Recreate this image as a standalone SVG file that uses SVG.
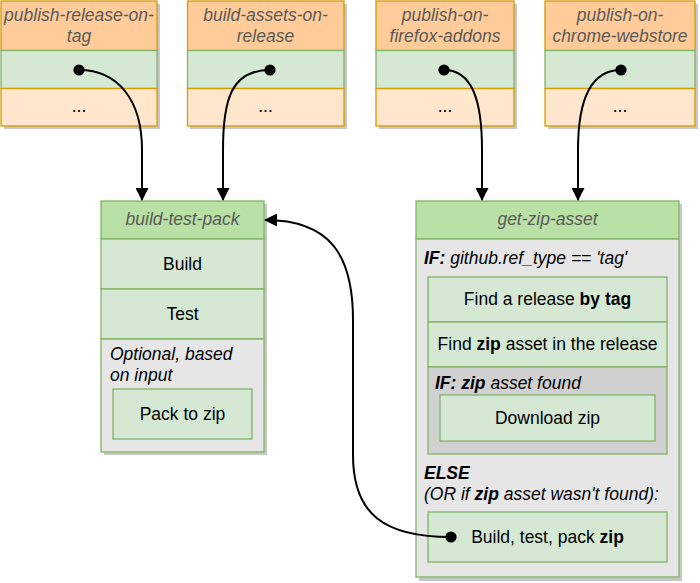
<svg xmlns="http://www.w3.org/2000/svg" width="700" height="583" viewBox="0 0 700 583">
<style>
text{font-family:"Liberation Sans",Arial,sans-serif;font-size:17.5px;fill:#000}
.hd{font-style:italic;fill:#5a5a5a}
.c{text-anchor:middle}
.it{font-style:italic}
.b{font-weight:bold}
.sh{fill:#000;opacity:0.22}
.or{fill:#ffcc99;stroke:#d79b00;stroke-width:1.3}
.orl{fill:#ffe6cc;stroke:#d79b00;stroke-width:1.3}
.gr{fill:#d5e8d4;stroke:#82b366;stroke-width:1.3}
.grh{fill:#b9e0a5;stroke:#82b366;stroke-width:1.3}
.gy{fill:#e6e6e6;stroke:#82b366;stroke-width:1.3}
.gy2{fill:#d0d0d0;stroke:#82b366;stroke-width:1.3}
.ln{fill:none;stroke:#000;stroke-width:2}
</style>
<defs>
<marker id="arr" viewBox="0 0 13 13" refX="12" refY="6.5" markerWidth="13" markerHeight="13" markerUnits="userSpaceOnUse" orient="auto">
<path d="M0,0 L13,6.5 L0,13 Z" fill="#000"/>
</marker>
<marker id="dot" viewBox="0 0 12 12" refX="6" refY="6" markerWidth="12" markerHeight="12" markerUnits="userSpaceOnUse" orient="auto">
<circle cx="6" cy="6" r="5.6" fill="#000"/>
</marker>
</defs>
<g id="publish-release-on-tag">
<rect class="sh" x="4" y="4" width="156" height="125"/>
<rect class="or" x="1" y="1" width="156" height="49.5"/>
<rect class="gr" x="1" y="50.5" width="156" height="38"/>
<rect class="orl" x="1" y="88.5" width="156" height="37.5"/>
<text class="hd c" x="79" y="21">publish-release-on-</text>
<text class="hd c" x="79" y="42">tag</text>
<text class="c" x="79" y="112">...</text>
</g>
<g id="build-assets-on-release">
<rect class="sh" x="190" y="4" width="157" height="125"/>
<rect class="or" x="187.5" y="1" width="156.5" height="49.5"/>
<rect class="gr" x="187.5" y="50.5" width="156.5" height="38"/>
<rect class="orl" x="187.5" y="88.5" width="156.5" height="37.5"/>
<text class="hd c" x="265.5" y="21">build-assets-on-</text>
<text class="hd c" x="265.5" y="42">release</text>
<text class="c" x="265.5" y="112">...</text>
</g>
<g id="publish-on-firefox-addons">
<rect class="sh" x="379" y="4" width="138" height="125"/>
<rect class="or" x="376" y="1" width="138" height="49.5"/>
<rect class="gr" x="376" y="50.5" width="138" height="38"/>
<rect class="orl" x="376" y="88.5" width="138" height="37.5"/>
<text class="hd c" x="445" y="21">publish-on-</text>
<text class="hd c" x="445" y="42">firefox-addons</text>
<text class="c" x="445" y="112">...</text>
</g>
<g id="publish-on-chrome-webstore">
<rect class="sh" x="548" y="4" width="150" height="125"/>
<rect class="or" x="545" y="1" width="150" height="49.5"/>
<rect class="gr" x="545" y="50.5" width="150" height="38"/>
<rect class="orl" x="545" y="88.5" width="150" height="37.5"/>
<text class="hd c" x="620" y="21">publish-on-</text>
<text class="hd c" x="620" y="42">chrome-webstore</text>
<text class="c" x="620" y="112">...</text>
</g>
<g id="build-test-pack">
<rect class="sh" x="104" y="204" width="163" height="251"/>
<rect class="grh" x="101" y="201" width="163" height="38"/>
<rect class="gr" x="101" y="239" width="163" height="50"/>
<rect class="gr" x="101" y="289" width="163" height="50"/>
<rect class="gy" x="101" y="339" width="163" height="113"/>
<rect class="gr" x="113" y="389" width="139" height="50"/>
<text class="hd c" x="182.5" y="225">build-test-pack</text>
<text class="c" x="182.5" y="270">Build</text>
<text class="c" x="182.5" y="320">Test</text>
<text class="it" x="110" y="360">Optional, based</text>
<text class="it" x="110" y="381">on input</text>
<text class="c" x="182.5" y="420">Pack to zip</text>
</g>
<g id="get-zip-asset">
<rect class="sh" x="419" y="204" width="263" height="377"/>
<rect class="grh" x="416" y="201" width="263" height="38"/>
<rect class="gy" x="416" y="239" width="263" height="338"/>
<text class="hd c" x="547.5" y="225">get-zip-asset</text>
<text x="424" y="264"><tspan class="b it">IF:</tspan><tspan class="it"> github.ref_type == 'tag'</tspan></text>
<rect class="gr" x="428" y="277" width="239" height="45"/>
<rect class="gr" x="428" y="322" width="239" height="45"/>
<rect class="gy2" x="428" y="367" width="239" height="87"/>
<text class="c" x="547.5" y="305">Find a release <tspan class="b">by tag</tspan></text>
<text class="c" x="547.5" y="350">Find <tspan class="b">zip</tspan> asset in the release</text>
<text x="435" y="389"><tspan class="b it">IF: zip</tspan><tspan class="it"> asset found</tspan></text>
<rect class="gr" x="440" y="395" width="215" height="46"/>
<text class="c" x="547.5" y="424">Download zip</text>
<text class="b it" x="424" y="479">ELSE</text>
<text class="it" x="424" y="500">(OR if <tspan class="b">zip</tspan> asset wasn't found):</text>
<rect class="gr" x="428" y="512" width="239" height="50"/>
<text class="c" x="547.5" y="543">Build, test, pack <tspan class="b">zip</tspan></text>
</g>
<g id="connectors">
<path class="ln" d="M79,70 C118,70 142,100 142,150 L142,200" marker-start="url(#dot)" marker-end="url(#arr)"/>
<path class="ln" d="M270,70 C231,70 223,100 223,150 L223,200" marker-start="url(#dot)" marker-end="url(#arr)"/>
<path class="ln" d="M444,70 C472,70 482,100 482,150 L482,200" marker-start="url(#dot)" marker-end="url(#arr)"/>
<path class="ln" d="M621,70 C590,70 578,100 578,150 L578,200" marker-start="url(#dot)" marker-end="url(#arr)"/>
<path class="ln" d="M451,537 C385,537 353,515 353,455 L353,320 C353,255 330,220 265,220" marker-start="url(#dot)" marker-end="url(#arr)"/>
</g>
</svg>
